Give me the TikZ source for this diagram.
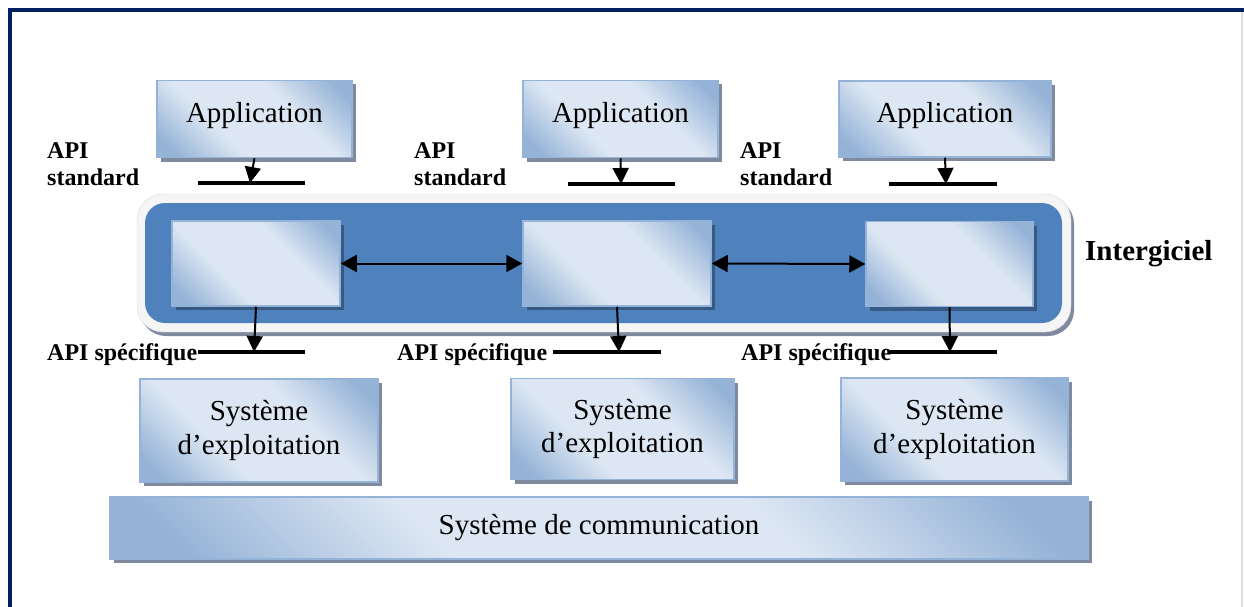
\documentclass[tikz,border=0pt]{standalone}
\usepackage{fontspec}
\setmainfont{Liberation Serif}
\usetikzlibrary{arrows.meta,shadows}

\definecolor{cadre}{RGB}{0,32,96}
\definecolor{clair}{RGB}{221,231,243}
\definecolor{fonce}{RGB}{149,179,215}
\definecolor{bande}{RGB}{79,129,189}
\definecolor{ombre}{RGB}{128,138,158}
\pgfdeclarehorizontalshading{boite}{100bp}{color(0bp)=(fonce); color(20bp)=(fonce);
  color(38bp)=(clair); color(62bp)=(clair); color(80bp)=(fonce); color(100bp)=(fonce)}

\begin{document}
\begin{tikzpicture}[
        x=1pt, y=-1pt,
        every node/.style = {inner sep=0pt},
        bloc/.style = {
            shape=rectangle,
            draw=fonce,
            line width=1.5pt,
            shading=boite,
            shading angle=45,
            align=center,
            font=\fontsize{29}{33}\selectfont,
            drop shadow={shadow xshift=4pt, shadow yshift=-4pt, fill=ombre, opacity=1}
        },
        interne/.style = {bloc,
            drop shadow={shadow xshift=4pt, shadow yshift=-4pt, fill=bande!70!black, opacity=1}
        },
        api/.style = {font=\fontsize{24}{27}\selectfont\bfseries, align=left},
        trait/.style = {line width=3.5pt},
        fleche/.style = {line width=2pt, -{Triangle[length=16pt,width=16pt]}},
        echange/.style = {line width=2pt, {Triangle[length=16pt,width=17pt]}-{Triangle[length=16pt,width=17pt]}}
    ]
    \useasboundingbox (0,0) rectangle (1244,607);

    % CADRE
    \draw[cadre, line width=4pt] (10,607) -- (10,10) -- (1244,10);
    \draw[gray!25, line width=1.5pt] (1242,12) -- (1242,607);

    % APPLICATIONS
    \node[bloc, minimum width=195pt, minimum height=77pt, text depth=13pt] (app1) at (254.5,119) {Application};
    \node[bloc, minimum width=195pt, minimum height=77pt, text depth=13pt] (app2) at (620.5,119) {Application};
    \node[bloc, minimum width=212pt, minimum height=76pt, text depth=13pt] (app3) at (945,119) {Application};

    % API STANDARD
    \node[api, anchor=north west] (std1) at (47,142) {API\\standard};
    \node[api, anchor=north west] (std2) at (414,142) {API\\standard};
    \node[api, anchor=north west] (std3) at (740,142) {API\\standard};
    \coordinate (s1) at (250,183);
    \coordinate (s2) at (621,184);
    \coordinate (s3) at (946,184);
    \draw[trait] (198,183) -- (305,183);
    \draw[trait] (568,184) -- (675,184);
    \draw[trait] (889,184) -- (997,184);
    \draw[fleche] (app1.south) -- (s1);
    \draw[fleche] (app2.south) -- (s2);
    \draw[fleche] (app3.south) -- (s3);

    % INTERGICIEL
    \node[draw=gray!30, fill=gray!8, rounded corners=26pt, minimum width=934pt, minimum height=138pt,
        drop shadow={shadow xshift=3pt, shadow yshift=-4pt, fill=ombre, opacity=1}] (rebord) at (604,263) {};
    \node[fill=bande, rounded corners=20pt, minimum width=917pt, minimum height=120pt] (bus) at (603.5,263) {};
    \node[interne, minimum width=168pt, minimum height=85pt] (mw1) at (256,263.5) {};
    \node[interne, minimum width=188pt, minimum height=85pt] (mw2) at (617,263.5) {};
    \node[interne, minimum width=167pt, minimum height=85pt] (mw3) at (949.5,264) {};
    \draw[echange] (mw1.east) -- (mw2.west);
    \draw[echange] (mw2.east) -- (mw3.west);
    \node[font=\fontsize{29}{33}\selectfont\bfseries, anchor=base west] (inter) at (1085,260) {Intergiciel};

    % API SPECIFIQUE
    \node[api, anchor=base west] (spe1) at (47,360) {API spécifique};
    \node[api, anchor=base west] (spe2) at (397,360) {API spécifique};
    \node[api, anchor=base west] (spe3) at (741,360) {API spécifique};
    \coordinate (p1) at (254,352);
    \coordinate (p2) at (619,352);
    \coordinate (p3) at (950,352);
    \draw[trait] (198,352) -- (305,352);
    \draw[trait] (553,352) -- (661,352);
    \draw[trait] (890,352) -- (997,352);
    \draw[fleche] (mw1.south) -- (p1);
    \draw[fleche] (mw2.south) -- (p2);
    \draw[fleche] (mw3.south) -- (p3);

    % SYSTEMES
    \node[bloc, minimum width=238pt, minimum height=103pt] (os1) at (259,430.5) {Système\\d’exploitation};
    \node[bloc, minimum width=223pt, minimum height=101pt] (os2) at (622.5,429) {Système\\d’exploitation};
    \node[bloc, minimum width=227pt, minimum height=103pt] (os3) at (954.5,429.5) {Système\\d’exploitation};
    \node[bloc, minimum width=978pt, minimum height=62pt] (comm) at (599,528) {Système de communication};
\end{tikzpicture}
\end{document}
